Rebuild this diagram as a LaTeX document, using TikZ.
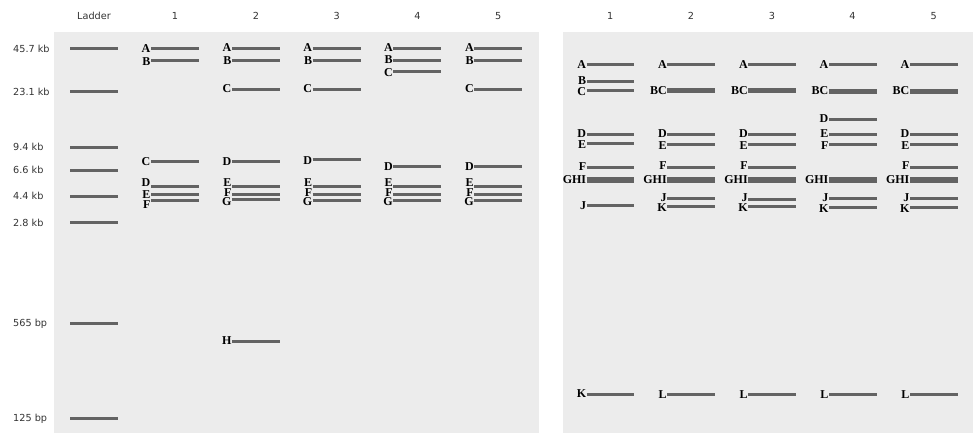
\documentclass[tikz,border=0pt]{standalone}
\usepackage{fontspec}
\setmainfont{Liberation Serif}
\newfontfamily\axisfont{DejaVu Sans}
\usetikzlibrary{positioning}

\definecolor{gelbg}{HTML}{ECECEC}
\definecolor{bandgray}{HTML}{636363}
\definecolor{axisgray}{HTML}{333333}

\begin{document}
\begin{tikzpicture}[
  x=1pt, y=-1pt,
  band/.style={bandgray, line width=3pt},
  thickband/.style={bandgray, line width=4.5pt},
  fatband/.style={bandgray, line width=5.5pt},
  blabel/.style={anchor=east, inner xsep=0.4pt, inner ysep=0pt, text height=7.8pt,
                 text depth=0pt, font=\fontsize{12}{12}\selectfont\bfseries},
  sizelabel/.style={anchor=west, inner sep=0pt, text height=7pt, text depth=0pt,
                    text=axisgray, font=\axisfont\fontsize{9.7}{10}\selectfont},
  lanehead/.style={inner sep=0pt, text=axisgray,
                   font=\axisfont\fontsize{9.7}{10}\selectfont},
]
  \useasboundingbox (0,0) rectangle (973,433);

  % gel panels
  \fill[gelbg] (54,31.7) rectangle (538.7,433);
  \fill[gelbg] (562.7,31.7) rectangle (973,433);

  % lane headers
  \node[lanehead] (hL) at (94,16) {Ladder};
  \foreach \n/\x in {1/175,2/256,3/336.7,4/417.5,5/498.3} {
    \node[lanehead] (hl\n) at (\x,16) {\n};
  }
  \foreach \n/\x in {1/610.3,2/691,3/772,4/852.5,5/933.6} {
    \node[lanehead] (hr\n) at (\x,16) {\n};
  }

  % ladder
  \foreach \y/\t in {48.7/45.7 kb, 91.7/23.1 kb, 147.3/9.4 kb, 170.3/6.6 kb,
                     196/4.4 kb, 222.7/2.8 kb, 323.3/565 bp, 418.3/125 bp} {
    \node[sizelabel] (s\y) at (13,\y) {\t};
    \draw[band] (70,\y) -- (118,\y);
  }

  % left gel, lanes 1-5
  \foreach \by/\ly/\l in {48.7/48.7/A, 61/61.5/B, 161.3/161.3/C,
                          186.7/182.5/D, 194.3/194.7/E, 200.3/204.8/F} {
    \node[blabel] (a1\l) at (151,\ly) {\l};
    \draw[band] (151,\by) -- ++(48,0);
  }
  \foreach \by/\ly/\l in {48.7/47.5/A, 61/61/B, 89.3/88.5/C, 161.3/161.3/D,
                          186.7/182.5/E, 194.3/193/F, 199.7/202/G, 341/341/H} {
    \node[blabel] (a2\l) at (232,\ly) {\l};
    \draw[band] (232,\by) -- ++(48,0);
  }
  \foreach \by/\ly/\l in {48.7/47.5/A, 61/61/B, 89.3/88.5/C, 159.3/160.5/D,
                          186.7/182.5/E, 194.3/193/F, 200/202/G} {
    \node[blabel] (a3\l) at (312.7,\ly) {\l};
    \draw[band] (312.7,\by) -- ++(48,0);
  }
  \foreach \by/\ly/\l in {48.7/47.5/A, 61/59.5/B, 71.7/72.5/C, 166.3/166.3/D,
                          186.7/182.5/E, 194.3/193/F, 200.3/202/G} {
    \node[blabel] (a4\l) at (393.3,\ly) {\l};
    \draw[band] (393.3,\by) -- ++(48,0);
  }
  \foreach \by/\ly/\l in {48.7/47.5/A, 61/61/B, 89.3/88.5/C, 166.3/166.3/D,
                          186.7/182.5/E, 194.3/193/F, 200.3/202/G} {
    \node[blabel] (a5\l) at (474.3,\ly) {\l};
    \draw[band] (474.3,\by) -- ++(48,0);
  }

  % right gel, lanes 1-5
  \foreach \by/\ly/\l/\s in {64.7/64.5/A/band, 81.3/80.5/B/band, 90.3/91.5/C/band,
                             134.7/134/D/band, 143.7/145/E/band, 167/166.5/F/band,
                             180/180/GHI/fatband, 205.7/205.5/J/band, 394.3/394/K/band} {
    \node[blabel] (b1\l) at (586.7,\ly) {\l};
    \draw[\s] (586.7,\by) -- ++(47.5,0);
  }
  \foreach \by/\ly/\l/\s in {64.7/64.5/A/band, 90.7/90.7/BC/thickband, 134.7/134/D/band,
                             144.7/146/E/band, 167/166/F/band, 180/180/GHI/fatband,
                             198.7/198/J/band, 206/208/K/band, 394.3/394.3/L/band} {
    \node[blabel] (b2\l) at (667.3,\ly) {\l};
    \draw[\s] (667.3,\by) -- ++(47.5,0);
  }
  \foreach \by/\ly/\l/\s in {64.7/64.5/A/band, 90.7/90.7/BC/thickband, 134.7/134/D/band,
                             144/145.5/E/band, 167/166/F/band, 180/180/GHI/fatband,
                             199/198/J/band, 206/208/K/band, 394.3/394.3/L/band} {
    \node[blabel] (b3\l) at (748.3,\ly) {\l};
    \draw[\s] (748.3,\by) -- ++(47.5,0);
  }
  \foreach \by/\ly/\l/\s in {64.3/64.5/A/band, 91.3/91/BC/thickband, 119.7/118.7/D/band,
                             134.7/133.5/E/band, 144.7/146/F/band, 180/180/GHI/fatband,
                             198.7/198/J/band, 207/208.5/K/band, 394.3/394.3/L/band} {
    \node[blabel] (b4\l) at (829,\ly) {\l};
    \draw[\s] (829,\by) -- ++(47.5,0);
  }
  \foreach \by/\ly/\l/\s in {64.3/64.5/A/band, 91.3/91/BC/thickband, 134.7/134/D/band,
                             144.7/146/E/band, 167/166/F/band, 180/180/GHI/fatband,
                             198.7/198/J/band, 207.7/208.5/K/band, 394.3/394.3/L/band} {
    \node[blabel] (b5\l) at (910,\ly) {\l};
    \draw[\s] (910,\by) -- ++(47.5,0);
  }
\end{tikzpicture}
\end{document}
